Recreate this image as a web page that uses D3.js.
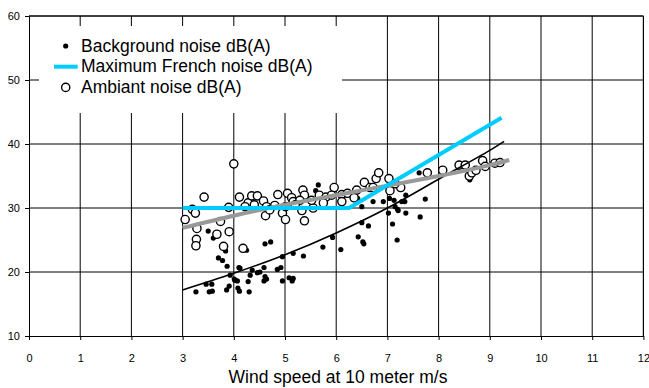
<!DOCTYPE html>
<html>
<head>
<meta charset="utf-8">
<script src="https://cdn.jsdelivr.net/npm/d3@7"></script>
<style>
  html, body { margin: 0; padding: 0; background: #fff; }
  svg { display: block; font-family: Arial, "Liberation Sans", sans-serif; }
</style>
</head>
<body>
<div id="chart"></div>
<script>
// wind speed (m/s), background noise dB(A)
const background = [
  [3.26, 16.9], [3.46, 18.1], [3.57, 18.1], [3.52, 16.9], [3.58, 17.0], [3.50, 26.4],
  [3.60, 25.3], [3.70, 22.2], [3.78, 21.8], [3.87, 20.9], [3.84, 23.3], [3.86, 17.2],
  [3.91, 17.8], [3.93, 19.5], [4.01, 18.9], [4.07, 18.6], [4.10, 20.7], [4.08, 17.5],
  [4.11, 17.0], [4.30, 16.9], [4.28, 18.5], [4.32, 19.5], [4.36, 20.3], [4.25, 23.4],
  [4.51, 20.0], [4.61, 19.3], [4.59, 18.6], [4.64, 18.9], [4.59, 20.7], [4.61, 24.4],
  [4.72, 24.7], [4.85, 20.4], [4.92, 20.7], [4.95, 22.4], [4.95, 18.6], [5.08, 19.1],
  [5.14, 18.6], [5.16, 19.0], [5.16, 22.9], [5.36, 22.5], [5.74, 23.9], [5.65, 33.6],
  [5.60, 32.7], [5.93, 25.4], [6.09, 23.5], [6.42, 31.5], [6.50, 30.2], [6.50, 27.7],
  [6.63, 27.2], [6.43, 25.5], [6.52, 24.7], [6.54, 24.4], [6.72, 31.0], [6.92, 31.0],
  [7.02, 29.2], [7.04, 31.5], [7.10, 27.5], [7.13, 31.2], [7.15, 30.2], [7.20, 29.8],
  [7.21, 29.6], [7.19, 25.0], [7.28, 31.0], [7.34, 31.0], [7.36, 32.0], [7.36, 29.2],
  [7.64, 28.6], [7.74, 31.4], [7.62, 35.5], [8.61, 34.4], [4.02, 18.7], [4.46, 19.9],
  [4.12, 20.6]
];

// wind speed (m/s), ambient noise dB(A)
const ambient = [
  [3.05, 28.2], [3.19, 29.8], [3.25, 29.2], [3.42, 31.7], [3.28, 26.8], [3.27, 25.1],
  [3.26, 24.1], [3.67, 25.9], [3.74, 27.9], [3.90, 30.1], [3.91, 26.3], [3.80, 24.0],
  [4.00, 36.9], [4.11, 31.7], [4.18, 23.7], [4.28, 30.8], [4.35, 31.9], [4.46, 31.9],
  [4.22, 30.2], [4.40, 30.5], [4.58, 31.1], [4.64, 30.2], [4.62, 28.8], [4.86, 32.1],
  [4.95, 29.2], [4.80, 30.4], [4.70, 29.7], [5.05, 32.3], [5.01, 28.2], [5.01, 30.2],
  [5.13, 31.6], [5.16, 31.0], [5.35, 32.8], [5.38, 32.0], [5.33, 29.6], [5.38, 28.0],
  [5.29, 31.2], [5.20, 30.5], [5.55, 30.0], [5.52, 31.2], [5.67, 32.0], [5.80, 31.7],
  [5.96, 33.2], [5.91, 32.0], [5.75, 30.8], [6.11, 32.1], [6.11, 31.0], [6.22, 32.3],
  [6.40, 32.8], [6.35, 31.6], [6.55, 34.0], [6.66, 33.2], [6.78, 34.6], [6.83, 35.5],
  [6.72, 33.2], [7.03, 34.6], [7.05, 32.7], [7.26, 33.2], [7.15, 33.8], [7.78, 35.5],
  [8.08, 35.9], [8.40, 36.7], [8.52, 36.7], [8.60, 35.0], [8.65, 35.5], [8.73, 35.9],
  [8.86, 37.4], [8.91, 36.5], [9.10, 37.0], [9.20, 37.1]
];

// limit line and trend curves
const frenchMax = [[3, 30], [6.25, 30], [9.23, 44.1]];
const backgroundTrend = [[3, 17.2], [4, 19.8], [5, 22.7], [6, 26.1], [7, 30.0], [8, 34.5], [9, 39.0], [9.28, 40.4]];
const ambientTrend = [[3, 26.9], [4, 28.8], [5, 30.5], [6, 32.0], [7, 33.5], [8, 35.0], [9, 36.7], [9.38, 37.5]];
const ambientTrend2 = [[3, 26.9], [4, 29.0], [5, 30.7], [6, 32.2], [7, 33.6], [8, 35.0], [9, 36.6], [9.3, 37.0]];

const xTicks = d3.range(0, 13);
const yTicks = [10, 20, 30, 40, 50, 60];
const legendItems = ['Background noise dB(A)', 'Maximum French noise dB(A)', 'Ambiant noise dB(A)'];
const xTitle = 'Wind speed at 10 meter m/s';

const width = 649, height = 388;
const svg = d3.select('#chart').append('svg')
  .attr('width', width)
  .attr('height', height);

const x = d3.scaleLinear().domain([0, 12]).range([29, 643.4]);
const y = d3.scaleLinear().domain([10, 60]).range([336, 16]);

// grid
const grid = svg.append('g');
grid.selectAll('line.v').data(xTicks.slice(1)).enter().append('line')
  .attr('x1', d => x(d)).attr('x2', d => x(d))
  .attr('y1', y(60)).attr('y2', y(10))
  .attr('stroke', '#000').attr('stroke-width', 1);
grid.selectAll('line.h').data(yTicks.slice(1)).enter().append('line')
  .attr('x1', x(0)).attr('x2', x(12))
  .attr('y1', d => y(d)).attr('y2', d => y(d))
  .attr('stroke', '#000').attr('stroke-width', 1);

// axes
const xAxis = svg.append('g')
  .attr('transform', `translate(0,${y(10)})`)
  .call(d3.axisBottom(x).tickValues(xTicks).tickSize(4).tickPadding(14).tickSizeOuter(0));
const yAxis = svg.append('g')
  .attr('transform', `translate(${x(0)},0)`)
  .call(d3.axisLeft(y).tickValues(yTicks).tickSize(4).tickPadding(5).tickSizeOuter(0));
[xAxis, yAxis].forEach(a => {
  a.select('.domain').attr('stroke', '#000');
  a.selectAll('.tick line').attr('stroke', '#000');
  a.selectAll('.tick text')
    .attr('fill', '#000')
    .style('font-size', '11px')
    .style('font-family', 'Arial, "Liberation Sans", sans-serif');
});

// data
const line = d3.line().x(d => x(d[0])).y(d => y(d[1]));
const curve = d3.line().x(d => x(d[0])).y(d => y(d[1])).curve(d3.curveCatmullRom);

svg.append('g').selectAll('circle').data(background).enter().append('circle')
  .attr('cx', d => x(d[0])).attr('cy', d => y(d[1]))
  .attr('r', 2.6).attr('fill', '#000');

svg.append('g').selectAll('circle').data(ambient).enter().append('circle')
  .attr('cx', d => x(d[0])).attr('cy', d => y(d[1]))
  .attr('r', 4.1).attr('fill', '#fff')
  .attr('stroke', '#000').attr('stroke-width', 1.4);

svg.append('path').datum(backgroundTrend)
  .attr('d', curve).attr('fill', 'none')
  .attr('stroke', '#000').attr('stroke-width', 1.6);
svg.append('path').datum(ambientTrend2)
  .attr('d', curve).attr('fill', 'none')
  .attr('stroke', '#33cc33').attr('stroke-width', 1);
svg.append('path').datum(ambientTrend)
  .attr('d', curve).attr('fill', 'none')
  .attr('stroke', '#999').attr('stroke-width', 4);
svg.append('path').datum(frenchMax)
  .attr('d', line).attr('fill', 'none')
  .attr('stroke', '#00ccff').attr('stroke-width', 4)
  .attr('stroke-linejoin', 'round');

// legend
const legend = svg.append('g');
legend.append('rect')
  .attr('x', 39).attr('y', 26).attr('width', 303).attr('height', 87)
  .attr('fill', '#fff');
legendItems.forEach((t, i) => {
  const cy = 46 + i * 20.7;
  if (i === 0) {
    legend.append('circle').attr('cx', 65.7).attr('cy', cy).attr('r', 2.6).attr('fill', '#000');
  } else if (i === 1) {
    legend.append('line').attr('x1', 54).attr('x2', 77.7).attr('y1', cy).attr('y2', cy)
      .attr('stroke', '#00ccff').attr('stroke-width', 4);
  } else {
    legend.append('circle').attr('cx', 65.7).attr('cy', cy).attr('r', 4.1)
      .attr('fill', '#fff').attr('stroke', '#000').attr('stroke-width', 1.4);
  }
  legend.append('text')
    .attr('x', 81).attr('y', cy + 5.6)
    .style('font-size', '17.5px')
    .attr('fill', '#000')
    .text(t);
});

// border top and right
svg.append('line').attr('x1', x(0)).attr('x2', x(12)).attr('y1', y(60)).attr('y2', y(60)).attr('stroke', '#000');
svg.append('line').attr('x1', x(12)).attr('x2', x(12)).attr('y1', y(60)).attr('y2', y(10)).attr('stroke', '#000');

svg.append('text')
  .attr('x', 338).attr('y', 383)
  .attr('text-anchor', 'middle')
  .style('font-size', '17.5px')
  .attr('fill', '#000')
  .text(xTitle);
</script>
</body>
</html>
